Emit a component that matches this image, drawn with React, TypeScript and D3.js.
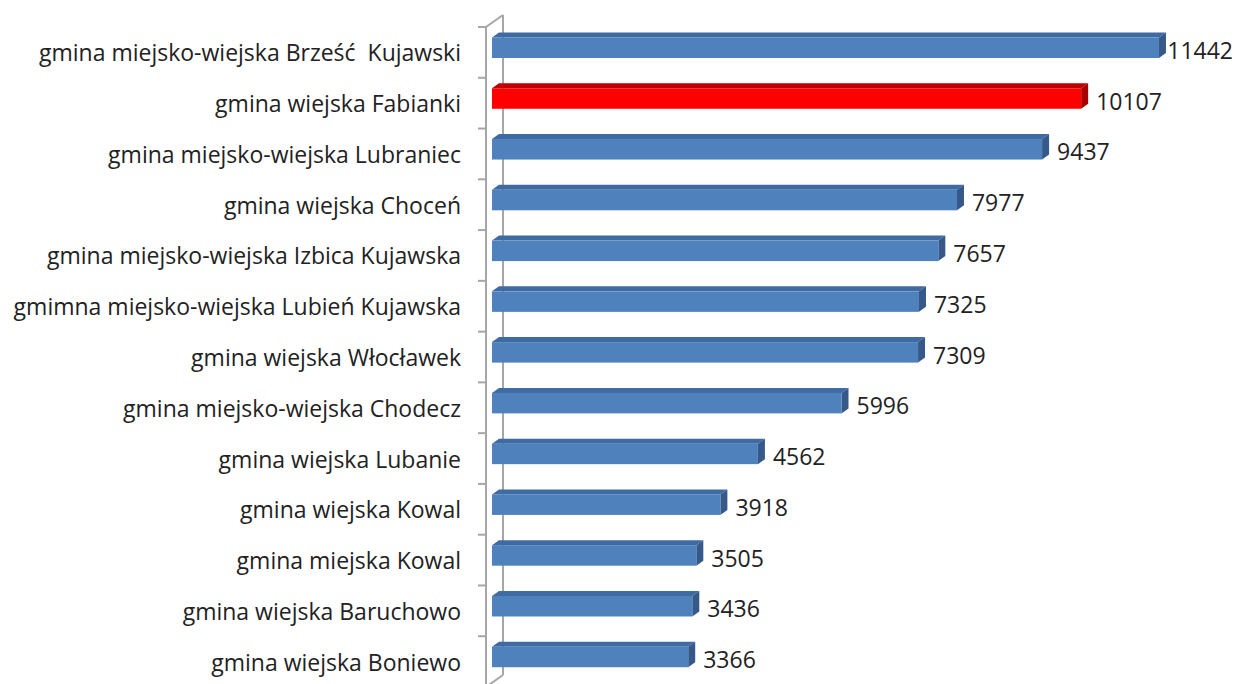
import React from "react";
import * as d3 from "d3";

// gminy, posortowane malejąco
const categories = [
  "gmina miejsko-wiejska Brześć  Kujawski",
  "gmina wiejska Fabianki",
  "gmina miejsko-wiejska Lubraniec",
  "gmina wiejska Choceń",
  "gmina miejsko-wiejska Izbica Kujawska",
  "gmimna miejsko-wiejska Lubień Kujawska",
  "gmina wiejska Włocławek",
  "gmina miejsko-wiejska Chodecz",
  "gmina wiejska Lubanie",
  "gmina wiejska Kowal",
  "gmina miejska Kowal",
  "gmina wiejska Baruchowo",
  "gmina wiejska Boniewo",
];
const values = [11442, 10107, 9437, 7977, 7657, 7325, 7309, 5996, 4562, 3918, 3505, 3436, 3366];
const highlighted = ["gmina wiejska Fabianki"];

const W = 1234;
const H = 684;
const FONT = "'Open Sans', Lato, sans-serif";

const blue = { front: "#4f81bd", top: "#3f6ba3", side: "#36598a" };
const red = { front: "#ff0000", top: "#c00000", side: "#a80000" };

export default function App() {
  // oś kategorii (przednia krawędź ściany 3D)
  const y = d3.scaleBand<string>().domain(categories).range([27, 687]).padding(0);
  const x = d3.scaleLinear().domain([0, 12000]).range([492, 492 + 12000 * 0.05829]);

  const axisX = 486; // przednia linia osi
  const wallDx = 17; // przesunięcie tylnej ściany
  const wallDy = -12;
  const depthDx = 7; // głębokość słupka
  const depthDy = -5;

  const ticks = d3.range(categories.length + 1).map((i) => 27 + i * y.step());

  const data = categories.map((c, i) => ({ name: c, value: values[i] }));

  return (
    <svg
      width={W}
      height={H}
      style={{ position: "absolute", left: 0, top: 0, background: "#fff" }}
      fontFamily={FONT}
    >
      {/* ściana osi */}
      <g stroke="#a6a6a6" strokeWidth={2} fill="none">
        <line x1={axisX + wallDx} y1={27 + wallDy} x2={axisX + wallDx} y2={687 + wallDy} />
        <line x1={axisX} y1={27} x2={axisX} y2={H + 4} />
        <line x1={axisX} y1={27} x2={axisX + wallDx} y2={27 + wallDy} />
        <line x1={axisX} y1={687} x2={axisX + wallDx} y2={687 + wallDy} />
        {ticks.map((t, i) => (
          <line key={i} x1={axisX - 8} y1={t} x2={axisX} y2={t} />
        ))}
      </g>

      {/* słupki 3D */}
      {data.map((d) => {
        const b = y(d.name)!;
        const x0 = x(0);
        const x1 = x(d.value);
        const yt = b + 10.5;
        const yb = b + 31;
        const col = highlighted.includes(d.name) ? red : blue;
        const topFace = [
          [x0, yt],
          [x0 + depthDx, yt + depthDy],
          [x1 + depthDx, yt + depthDy],
          [x1, yt],
        ];
        const sideFace = [
          [x1, yt],
          [x1 + depthDx, yt + depthDy],
          [x1 + depthDx, yb + depthDy],
          [x1, yb],
        ];
        return (
          <g key={d.name}>
            <polygon points={topFace.join(" ")} fill={col.top} />
            <polygon points={sideFace.join(" ")} fill={col.side} />
            <rect x={x0} y={yt} width={x1 - x0} height={yb - yt} fill={col.front} />
          </g>
        );
      })}

      {/* etykiety kategorii */}
      <g fontSize={23} fill="#222" textAnchor="end">
        {data.map((d) => (
          <text key={d.name} x={461} y={y(d.name)! + y.bandwidth() / 2 + 9} xmlSpace="preserve">
            {d.name}
          </text>
        ))}
      </g>

      {/* etykiety wartości */}
      <g fontSize={23} fill="#222">
        {data.map((d) => {
          const end = x(d.value) + depthDx + 8;
          const overflow = end + 70 > W;
          return (
            <text
              key={d.name}
              x={overflow ? W - 1 : end}
              y={y(d.name)! + y.bandwidth() / 2 + 6.5}
              textAnchor={overflow ? "end" : "start"}
            >
              {d.value}
            </text>
          );
        })}
      </g>
    </svg>
  );
}
